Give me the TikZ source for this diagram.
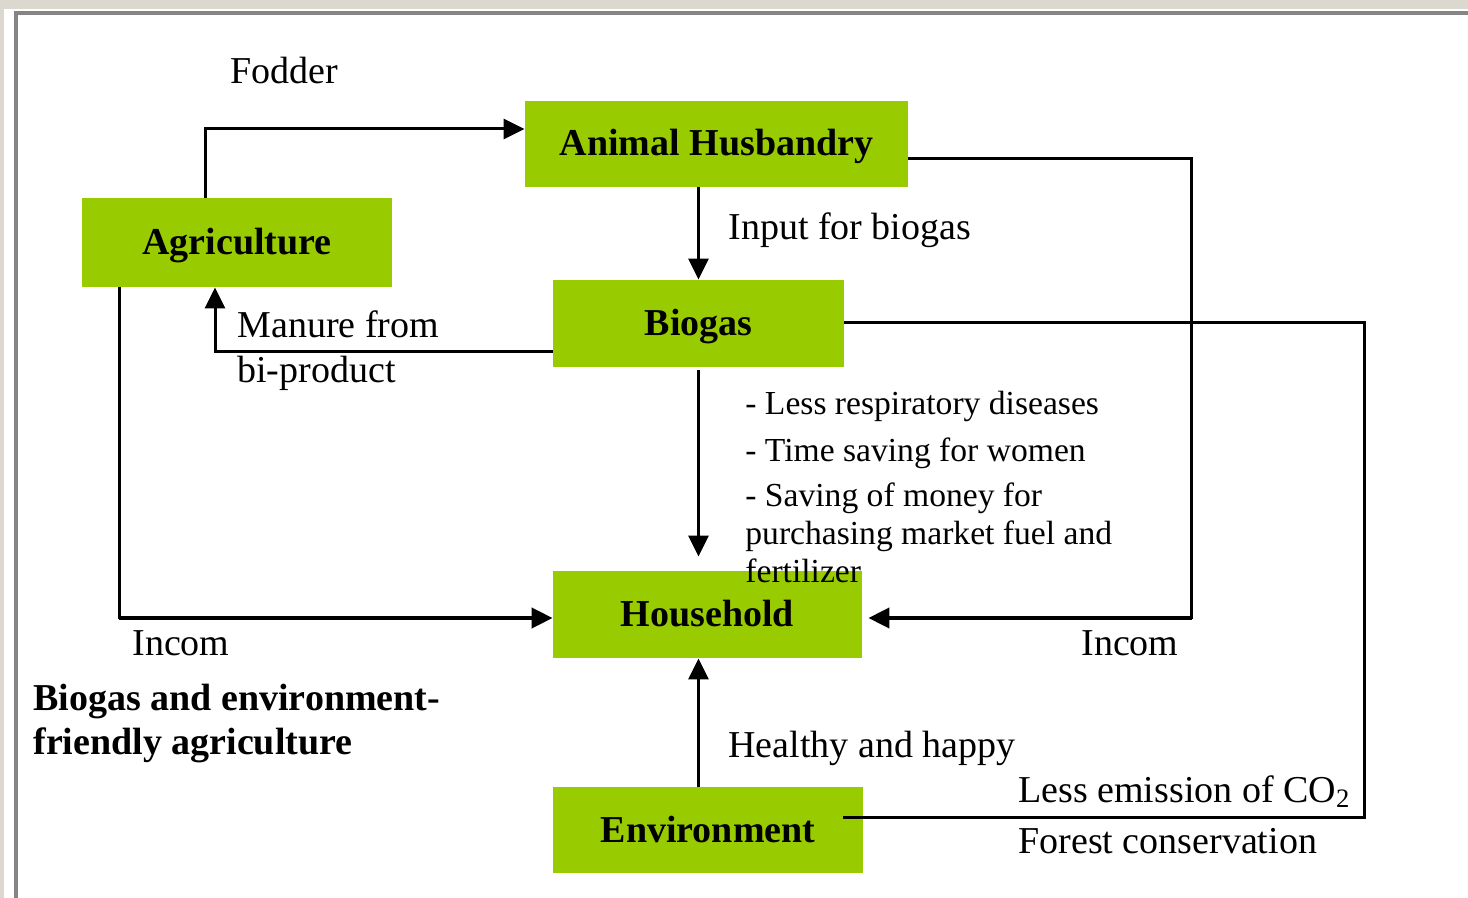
\documentclass[tikz,border=0pt]{standalone}
\usepackage{fontspec}
\setmainfont{Liberation Serif}
\usetikzlibrary{arrows.meta}
\definecolor{boxgreen}{HTML}{99CC00}
\definecolor{outerbg}{HTML}{DCD8D0}
\definecolor{framegray}{HTML}{858585}
\newcommand\lblfont{\fontsize{19pt}{22pt}\selectfont}
\newcommand\listfont{\fontsize{16.8pt}{19pt}\selectfont}
\tikzset{
  greenbox/.style={fill=boxgreen, inner sep=0pt, font=\lblfont\bfseries, text height=15pt, text depth=3pt, align=center},
  lbl/.style={inner sep=0pt, anchor=base west, font=\lblfont},
  lbllist/.style={inner sep=0pt, anchor=base west, font=\listfont},
  lblbold/.style={inner sep=0pt, anchor=base west, font=\lblfont\bfseries},
  conn/.style={line width=1.5pt, draw=black},
  arr/.style={conn, -{Triangle[length=10.5pt,width=10pt]}},
  thickconn/.style={line width=2pt}
}
\begin{document}
\begin{tikzpicture}[x=0.5pt,y=-0.5pt]
\useasboundingbox (0,0) rectangle (1468,898);
% background and frame
\fill[outerbg] (0,0) rectangle (1468,898);
\fill[white] (4,9) rectangle (1468,898);
\fill[framegray] (14,11) rectangle (1468,15.5);
\fill[framegray] (14,11) rectangle (18,898);

% boxes
\node[greenbox, minimum width=191.5pt, minimum height=43pt] (ah) at (716.5,144) {Animal Husbandry};
\node[greenbox, minimum width=155pt, minimum height=44.5pt] (agri) at (237,242.5) {Agriculture};
\node[greenbox, minimum width=145.5pt, minimum height=43.5pt] (bio) at (698.5,323.5) {Biogas};
\node[greenbox, minimum width=154.5pt, minimum height=43.5pt] (hh) at (707.5,614.5) {Household};
\node[greenbox, minimum width=155pt, minimum height=43pt] (env) at (708,830) {Environment};

% corner coordinates
\coordinate (cF) at (205.5,129);
\coordinate (cR) at (1191.5,159);
\coordinate (cI) at (1191.5,618);
\coordinate (cM) at (215,351.5);
\coordinate (cB) at (1364,323);
\coordinate (cE) at (843,817);
\coordinate (cL) at (119,618);

% connectors
\draw[arr] (agri.north -| cF) -- (cF) -- (cF -| ah.west);
\draw[conn] (ah.east |- cR) -- (cR) -- ([yshift=-0.5pt]cI);
\draw[arr, thickconn, shorten >=3pt] (cI) -- (cI -| hh.east);
\draw[arr] (bio.north |- ah.south) -- (bio.north);
\draw[arr] (bio.west |- cM) -- (cM) -- (cM |- agri.south);
\draw[arr, shorten <=1.5pt, shorten >=7pt] (bio.south) -- (bio.south |- hh.north);
\draw[conn] (bio.east |- cB) -- (cB) -- (cB |- cE) -- (cE);
\draw[conn] (agri.south -| cL) -- ([yshift=-0.5pt]cL);
\draw[arr, thickconn] (cL) -- (cL -| hh.west);
\draw[arr] (env.north -| bio.south) -- (hh.south -| bio.south);

% labels
\node[lbl] (tF) at (230,84) {Fodder};
\node[lbl] (tIn) at (728,240) {Input for biogas};
\node[lbl] (tM1) at (237,338) {Manure from};
\node[lbl] (tM2) at (237,383) {bi-product};
\node[lbllist] (tL1) at (745,415) {- Less respiratory diseases};
\node[lbllist] (tL2) at (745,462) {- Time saving for women};
\node[lbllist] (tL3) at (745,507) {- Saving of money for};
\node[lbllist] (tL4) at (745,545) {purchasing market fuel and};
\node[lbllist] (tL5) at (745,582) {fertilizer};
\node[lbl] (tIncL) at (132,655) {Incom};
\node[lbl] (tIncR) at (1081,655) {Incom};
\node[lblbold] (tB1) at (33,710) {Biogas and environment-};
\node[lblbold] (tB2) at (33,754) {friendly agriculture};
\node[lbl] (tH) at (728,757) {Healthy and happy};
\node[lbl] (tCO) at (1018,802) {Less emission of CO\textsubscript{2}};
\node[lbl] (tFo) at (1018,853) {Forest conservation};
\end{tikzpicture}
\end{document}
